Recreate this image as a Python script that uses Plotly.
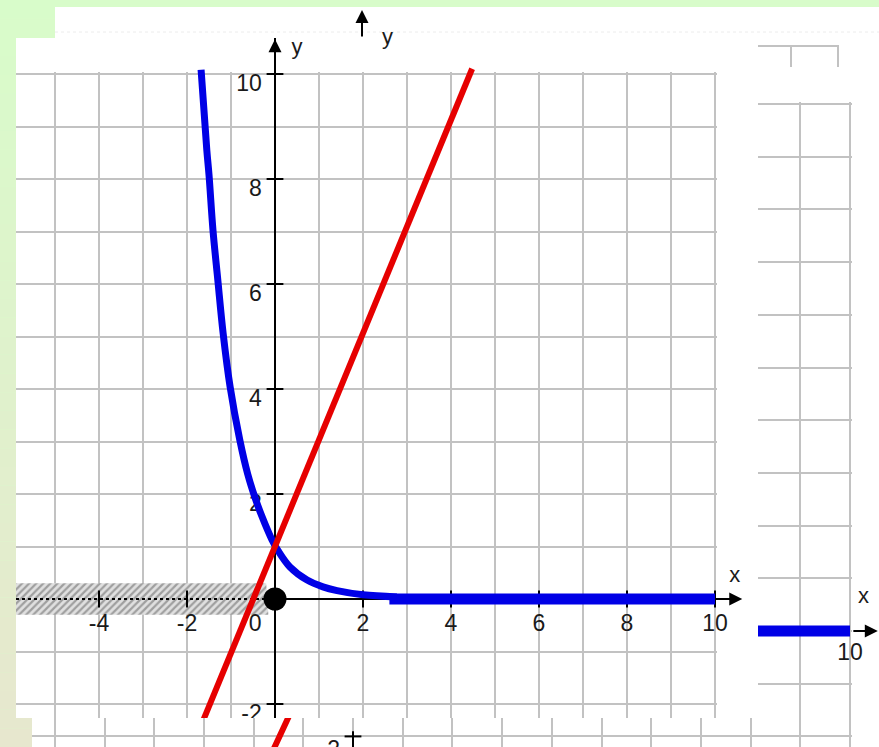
import plotly.graph_objects as go

W, H = 879, 747

# ---------------- data ----------------
x_tick_vals = [-6, -4, -2, 0, 2, 4, 6, 8, 10]
x_tick_text = ["-6", "-4", "-2", "0", "2", "4", "6", "8", "10"]
x_mark_vals = [-4, -2, 2, 4, 6, 8, 10]
y_tick_vals = [-2, 2, 4, 6, 8, 10]
y_tick_text = ["-2", "2", "4", "6", "8", "10"]

blue_curve_x = [-1.68, -1.55, -1.50, -1.41, -1.30, -1.18, -1.02, -0.80, -0.62,
                -0.45, -0.30, -0.07, 0.07, 0.34, 0.73, 1.09, 1.41, 2.00, 2.77]
blue_curve_y = [10.08, 8.55, 8.08, 7.03, 6.08, 5.07, 4.04, 3.03, 2.38,
                1.92, 1.58, 1.13, 0.92, 0.61, 0.36, 0.23, 0.16, 0.08, 0.04]
blue_tail_x = [2.6, 10]
blue_tail_y = [0, 0]
red_x = [-2.0, 4.48]
red_y = [-3.06, 10.10]
dot_x = [0]
dot_y = [0]
hatch_from, hatch_to, hatch_half = -6.0, -0.2, 0.3
axis_names = ["x", "y"]
back_x_name = "x"
back_labels = ["10"]
back_y_label = ["-2"]

# ---------------- styling ----------------
GRID = "#c2c2c2"
BLUE = "#0000e6"
RED = "#e60000"
FONT = dict(family="Liberation Sans, Arial, sans-serif", size=23, color="#1a1a1a")
NAME_FONT = dict(family="Liberation Sans, Arial, sans-serif", size=22, color="#1a1a1a")

# pixel geometry of the two stacked graph pictures
MX0, MSX, MY0, MSY = 275, 44.0, 599, 52.5      # front picture
BX0, BSX, BY0, BSY = 353, 49.7, 631, 52.7      # picture behind


def dom_x(p0, p1):
    return [p0 / W, p1 / W]


def dom_y(top, bottom):
    return [1 - bottom / H, 1 - top / H]


def rng_x(p0, p1, o, s):
    return [(p0 - o) / s, (p1 - o) / s]


def rng_y(top, bottom, o, s):
    return [(o - bottom) / s, (o - top) / s]


def axis(domain, rng, grid, anchor, **kw):
    d = dict(domain=domain, range=rng, showgrid=grid, gridcolor=GRID, gridwidth=2,
             dtick=1, tick0=0, zeroline=False, showticklabels=False, ticks="",
             showline=False, fixedrange=True, anchor=anchor)
    d.update(kw)
    return d


b1x = rng_x(758, 852, BX0, BSX); b1y = rng_y(102, 718, BY0, BSY)
b2x = rng_x(32, 852, BX0, BSX); b2y = rng_y(718, 747, BY0, BSY)
g3x = rng_x(16, 717, MX0, MSX); g3y = rng_y(72, 718, MY0, MSY)
m4x = rng_x(16, 758, MX0, MSX); m4y = rng_y(38, 718, MY0, MSY)


# paper position of a point of the back picture (for marks past its plot area)
def back_paper(xv, yv):
    return (BX0 + xv * BSX) / W, 1 - (BY0 - yv * BSY) / H


fig = go.Figure()

# ---- back picture ----
fig.add_trace(go.Scatter(x=blue_tail_x, y=blue_tail_y, mode="lines",
                         line=dict(color=BLUE, width=11), xaxis="x", yaxis="y",
                         hoverinfo="skip"))
fig.add_trace(go.Scatter(x=[10], y=[-0.44], mode="text", text=back_labels,
                         textposition="middle center", textfont=FONT, cliponaxis=False,
                         xaxis="x", yaxis="y", hoverinfo="skip"))
fig.add_trace(go.Scatter(x=red_x, y=red_y, mode="lines", line=dict(color=RED, width=6),
                         xaxis="x2", yaxis="y2", hoverinfo="skip"))
fig.add_trace(go.Scatter(x=[0], y=[y_tick_vals[0]], mode="markers",
                         marker=dict(symbol="line-ew", size=12, line=dict(width=2, color="black")),
                         xaxis="x2", yaxis="y2", hoverinfo="skip"))
fig.add_trace(go.Scatter(x=[-0.26], y=[-2.07], mode="text", text=back_y_label,
                         textposition="bottom left", textfont=FONT, cliponaxis=True,
                         xaxis="x2", yaxis="y2", hoverinfo="skip"))

# ---- grid of the front picture (empty subplot, grid only) ----
fig.add_trace(go.Scatter(x=[None], y=[None], mode="lines", xaxis="x3", yaxis="y3",
                         hoverinfo="skip"))

# ---- front picture ----
hx = [hatch_from, hatch_to, hatch_to + 0.05, hatch_from, hatch_from]
hy = [hatch_half, hatch_half, -hatch_half, -hatch_half, hatch_half]
fig.add_trace(go.Scatter(x=hx, y=hy, mode="lines", fill="toself", line=dict(width=0),
                         fillcolor="rgba(0,0,0,0)",
                         fillpattern=dict(shape="/", fgcolor="#5e5e5e", bgcolor="#e0e0e0",
                                          size=5, solidity=0.45),
                         xaxis="x4", yaxis="y4", hoverinfo="skip"))
fig.add_trace(go.Scatter(x=[m4x[0], 0], y=[0, 0], mode="lines",
                         line=dict(color="black", width=2, dash="dot"),
                         xaxis="x4", yaxis="y4", hoverinfo="skip"))
fig.add_trace(go.Scatter(x=[0, 10.5], y=[0, 0], mode="lines",
                         line=dict(color="black", width=2),
                         xaxis="x4", yaxis="y4", hoverinfo="skip"))
fig.add_trace(go.Scatter(x=x_mark_vals, y=[0] * len(x_mark_vals), mode="markers",
                         marker=dict(symbol="line-ns", size=12, line=dict(width=2, color="black")),
                         cliponaxis=False, xaxis="x4", yaxis="y4", hoverinfo="skip"))
fig.add_trace(go.Scatter(x=[0] * len(y_tick_vals), y=y_tick_vals, mode="markers",
                         marker=dict(symbol="line-ew", size=12, line=dict(width=2, color="black")),
                         cliponaxis=False, xaxis="x4", yaxis="y4", hoverinfo="skip"))
lab_x = [v if v != 0 else -0.45 for v in x_tick_vals]
fig.add_trace(go.Scatter(x=lab_x, y=[-0.29] * len(lab_x), mode="text", text=x_tick_text,
                         textposition="bottom center", textfont=FONT, cliponaxis=True,
                         xaxis="x4", yaxis="y4", hoverinfo="skip"))
fig.add_trace(go.Scatter(x=[-0.3] * len(y_tick_vals), y=y_tick_vals, mode="text",
                         text=y_tick_text, textposition="bottom left", textfont=FONT,
                         cliponaxis=True, xaxis="x4", yaxis="y4", hoverinfo="skip"))
fig.add_trace(go.Scatter(x=blue_curve_x, y=blue_curve_y, mode="lines",
                         line=dict(color=BLUE, width=7, shape="spline"),
                         xaxis="x4", yaxis="y4", hoverinfo="skip"))
fig.add_trace(go.Scatter(x=blue_tail_x, y=blue_tail_y, mode="lines",
                         line=dict(color=BLUE, width=11),
                         xaxis="x4", yaxis="y4", hoverinfo="skip"))
fig.add_trace(go.Scatter(x=red_x, y=red_y, mode="lines", line=dict(color=RED, width=6),
                         xaxis="x4", yaxis="y4", hoverinfo="skip"))
fig.add_trace(go.Scatter(x=dot_x, y=dot_y, mode="markers",
                         marker=dict(color="black", size=23),
                         xaxis="x4", yaxis="y4", hoverinfo="skip"))
fig.add_trace(go.Scatter(x=[10.45, 0.5], y=[0.42, 10.48], mode="text", text=axis_names,
                         textposition="middle center", textfont=NAME_FONT, cliponaxis=False,
                         xaxis="x4", yaxis="y4", hoverinfo="skip"))

# ---------------- slide background (decoration) ----------------
shapes = []
top_c = (216, 252, 202)
bot_c = (231, 231, 206)
n = 40
for i in range(n):
    t = (i + 0.5) / n
    c = tuple(round(a + (b - a) * t) for a, b in zip(top_c, bot_c))
    shapes.append(dict(type="rect", xref="paper", yref="paper", layer="below",
                       x0=0, x1=60 / W, y0=1 - (i + 1) / n, y1=1 - i / n,
                       line=dict(width=0), fillcolor="rgb(%d,%d,%d)" % c))


def prect(x0, y0, x1, y1, color="white"):
    return dict(type="rect", xref="paper", yref="paper", layer="below",
                x0=x0 / W, x1=x1 / W, y0=1 - y1 / H, y1=1 - y0 / H,
                line=dict(width=0), fillcolor=color)


def pline(x0, y0, x1, y1, color=GRID, width=2, dash="solid"):
    return dict(type="line", xref="paper", yref="paper", layer="below",
                x0=x0 / W, x1=x1 / W, y0=1 - y0 / H, y1=1 - y1 / H,
                line=dict(color=color, width=width, dash=dash))


shapes.append(prect(55, 7, W, H))          # back pictures
shapes.append(prect(32, 718, 56, H))       # bottom back picture
shapes.append(prect(16, 38, 758, 718))     # front picture
shapes.append(pline(55, 32, W, 32, color="#ececec", width=1, dash="dot"))
shapes.append(pline(758, 46, 839, 46))
shapes.append(pline(791, 46, 791, 67))
shapes.append(pline(838, 46, 838, 67))
shapes.append(dict(type="line", xref="x2", yref="y2", x0=0, x1=0, y0=-1.9, y1=b2y[0] - 0.1,
                   line=dict(color="black", width=2)))

bx_tip = back_paper(10.56, 0)
bx_name = back_paper(10.42, 0.4)

annots = [
    dict(x=10.62, y=0, xref="x4", yref="y4", ax=-20, ay=0, text="", showarrow=True,
         arrowhead=2, arrowsize=1.3, arrowwidth=2, arrowcolor="black"),
    dict(x=0, y=10.66, xref="x4", yref="y4", ax=0, ay=20, text="", showarrow=True,
         arrowhead=2, arrowsize=1.3, arrowwidth=2, arrowcolor="black"),
    dict(x=bx_tip[0], y=bx_tip[1], xref="paper", yref="paper", ax=-26, ay=0, text="",
         showarrow=True, arrowhead=2, arrowsize=1.3, arrowwidth=2, arrowcolor="black"),
    dict(x=bx_name[0], y=bx_name[1], xref="paper", yref="paper", text=back_x_name,
         showarrow=False, font=NAME_FONT),
    dict(x=362 / W, y=1 - 10 / H, xref="paper", yref="paper", ax=0, ay=28, text="",
         showarrow=True, arrowhead=2, arrowsize=1.3, arrowwidth=2, arrowcolor="black"),
    dict(x=387 / W, y=1 - 22 / H, xref="paper", yref="paper", text="y", showarrow=False,
         font=NAME_FONT),
]

fig.update_layout(
    width=W, height=H, autosize=False,
    margin=dict(l=0, r=0, t=0, b=0, pad=0),
    paper_bgcolor="rgb(%d,%d,%d)" % top_c,
    plot_bgcolor="rgba(0,0,0,0)",
    showlegend=False, hovermode=False,
    shapes=shapes, annotations=annots,
    xaxis=axis(dom_x(758, 852), b1x, True, "y"),
    yaxis=axis(dom_y(102, 718), b1y, True, "x"),
    xaxis2=axis(dom_x(32, 852), b2x, True, "y2"),
    yaxis2=axis(dom_y(718, H), b2y, True, "x2"),
    xaxis3=axis(dom_x(16, 717), g3x, True, "y3"),
    yaxis3=axis(dom_y(72, 718), g3y, True, "x3"),
    xaxis4=axis(dom_x(16, 758), m4x, False, "y4", zeroline=True,
                zerolinecolor="black", zerolinewidth=2),
    yaxis4=axis(dom_y(38, 718), m4y, False, "x4"),
)

fig.write_html("out.html", config={"displayModeBar": False},
               post_script="document.body.style.margin='0px';"
                           "document.body.style.overflow='hidden';")
